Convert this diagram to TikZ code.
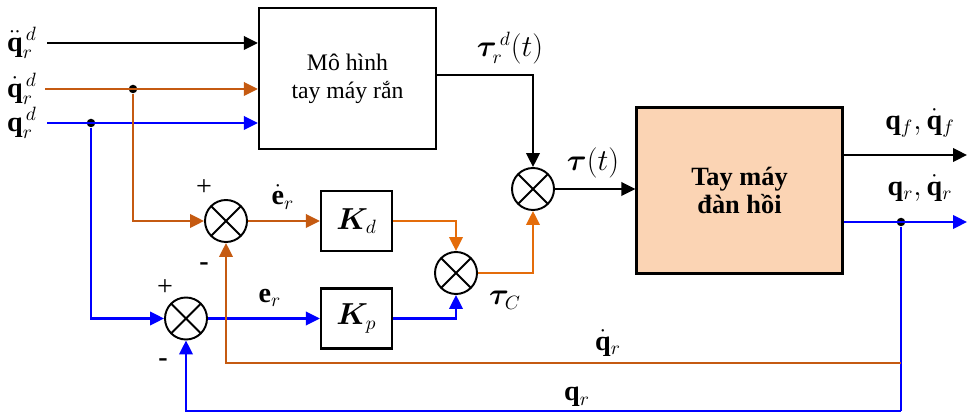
\documentclass[tikz,border=0pt]{standalone}
\usepackage{amsmath,bm}
\usepackage{fontspec}
\setmainfont{Liberation Serif}
\usepackage{tikz}
\usetikzlibrary{arrows.meta, positioning, calc}

\definecolor{qdcol}{RGB}{197,90,17}
\definecolor{kdcol}{RGB}{228,108,10}
\definecolor{armfill}{RGB}{251,212,180}

\begin{document}
\begin{tikzpicture}[
  font=\fontsize{13.5}{16}\selectfont,
  >={Triangle[length=2.8mm,width=2.7mm]},
  sig/.style={line width=1.3pt, ->},
  blk/.style={draw, line width=1.3pt, align=center, inner sep=0pt},
  gain/.style={blk, minimum width=14.2mm, minimum height=12mm},
  summ/.style={draw, line width=1.1pt, circle, minimum size=8.4mm, inner sep=0pt,
               path picture={\draw[line width=1.1pt] (path picture bounding box.north west) -- (path picture bounding box.south east)
                             (path picture bounding box.north east) -- (path picture bounding box.south west);}},
  dot/.style={circle, fill=black, inner sep=0pt, minimum size=1.7mm},
  lbl/.style={inner sep=1pt, font=\fontsize{16}{19}\selectfont}
]
\useasboundingbox (0,0) rectangle (19.34,-8.32);

% blocks
\node[blk, minimum width=35.4mm, minimum height=28.2mm] (model) at (6.95,-1.57) {Mô hình\\tay máy rắn};
\node[blk, fill=armfill, minimum width=41.2mm, minimum height=33.2mm] (arm) at (14.79,-3.81) {\fontsize{15}{18}\selectfont\textbf{Tay máy}\\\fontsize{15}{18}\selectfont\textbf{đàn hồi}};
\node[gain] (Kd) at (7.13,-4.42) {\fontsize{16}{19}\selectfont$\bm{K}_d$};
\node[gain] (Kp) at (7.13,-6.37) {\fontsize{16}{19}\selectfont$\bm{K}_p$};

% summing junctions
\node[summ] (s1) at (4.52,-4.42) {};
\node[summ] (s2) at (3.72,-6.37) {};
\node[summ] (s3) at (9.12,-5.46) {};
\node[summ] (s4) at (10.66,-3.78) {};

% inputs
\node[lbl] (qdd) at (0.44,-0.86) {$\ddot{\mathbf{q}}_r^{\,d}$};
\node[lbl] (qd)  at (0.44,-1.78) {$\dot{\mathbf{q}}_r^{\,d}$};
\node[lbl] (q)   at (0.44,-2.46) {$\mathbf{q}_r^{\,d}$};
\node[dot] (j1) at (2.66,-1.78) {};
\node[dot] (j2) at (1.82,-2.46) {};
\node[dot] (j3) at (18.02,-4.44) {};
\coordinate (outf) at (19.34,-3.10);
\coordinate (outr) at (19.34,-4.44);
\coordinate (fbqd) at (18.02,-7.26);
\coordinate (fbq) at (18.02,-8.22);

\draw[sig] (0.94,-0.86) -- (model.west |- qdd);
\draw[sig, qdcol] (0.90,-1.78) -- (model.west |- qd);
\draw[sig, blue] (0.94,-2.46) -- (model.west |- q);

% error paths
\draw[sig, qdcol] (j1) |- (s1.west);
\draw[sig, blue] (j2) |- (s2.west);
\draw[sig, qdcol] (s1.east) -- (Kd.west);
\draw[sig, blue] (s2.east) -- (Kp.west);
\draw[sig, kdcol] (Kd.east) -| (s3.north);
\draw[sig, blue] (Kp.east) -| (s3.south);
\draw[sig, kdcol] (s3.east) -| (s4.south);
\draw[sig] ([yshift=0.07cm]model.east) -| (s4.north);
\draw[sig] (s4.east) -- (s4.east -| arm.west);

% outputs and feedback
\draw[sig] (arm.east |- outf) -- (outf);
\draw[sig, blue] (arm.east |- outr) -- (outr);
\draw[line width=1.3pt, blue] (j3) -- (fbq);
\draw[sig, blue] (fbq) -| (s2.south);
\draw[sig, qdcol] (fbqd) -| (s1.south);

% labels
\node[lbl] at (10.2,-0.96) {$\bm{\tau}_r^{\,d}(t)$};
\node[lbl] at (11.86,-3.26) {$\bm{\tau}(t)$};
\node[lbl] at (18.4,-2.46) {$\mathbf{q}_f,\dot{\mathbf{q}}_f$};
\node[lbl] at (18.4,-3.76) {$\mathbf{q}_r,\dot{\mathbf{q}}_r$};
\node[lbl] at (5.66,-3.94) {$\dot{\mathbf{e}}_r$};
\node[lbl] at (5.4,-5.96) {$\mathbf{e}_r$};
\node[lbl] at (10.1,-6.0) {$\bm{\tau}_C$};
\node[lbl] at (12.16,-6.86) {$\dot{\mathbf{q}}_r$};
\node[lbl] at (11.54,-7.94) {$\mathbf{q}_r$};
\node[lbl] at (4.08,-3.76) {+};
\node[lbl] at (4.08,-5.34) {\textbf{-}};
\node[lbl] at (3.3,-5.76) {+};
\node[lbl] at (3.26,-7.26) {\textbf{-}};
\end{tikzpicture}
\end{document}
